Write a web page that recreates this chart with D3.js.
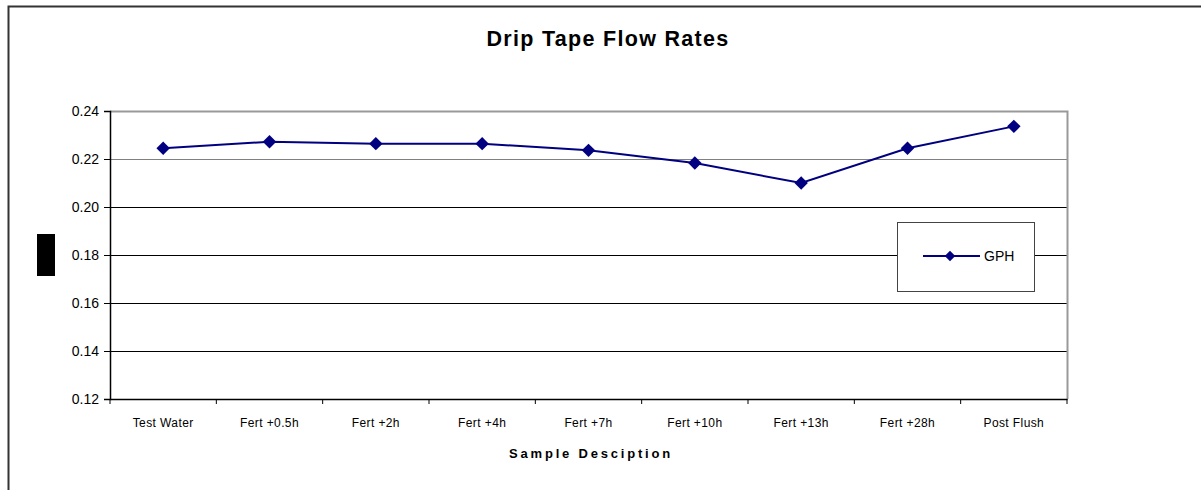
<!DOCTYPE html>
<html><head><meta charset="utf-8">
<script src="https://cdn.jsdelivr.net/npm/d3@7"></script>
<style>body{margin:0;background:#fff}svg{display:block}</style>
</head><body>
<svg id="c" width="1201" height="490"></svg>
<script>
const categories = ["Test Water","Fert +0.5h","Fert +2h","Fert +4h","Fert +7h","Fert +10h","Fert +13h","Fert +28h","Post Flush"];
const gph = [0.2245,0.2272,0.2264,0.2264,0.2236,0.2183,0.2100,0.2245,0.2336];
const yTicks = [0.12,0.14,0.16,0.18,0.20,0.22,0.24];
const title = "Drip Tape Flow Rates";
const xTitle = "Sample Desciption";
const seriesName = "GPH";

const svg = d3.select("#c");
const font = "Liberation Sans, Arial, sans-serif";
const L = 110, R = 1067, T = 111, B = 399;

// outer chart border
svg.append("rect").attr("x",8.5).attr("y",6.5).attr("width",1250).attr("height",600)
  .attr("fill","none").attr("stroke","#333").attr("stroke-width",2);

const x = d3.scaleBand().domain(categories).range([L,R]).padding(0);
const y = d3.scaleLinear().domain([0.12,0.24]).range([B,T]);

// gridlines
svg.append("g").selectAll("line").data(yTicks.filter(v=>v>0.12 && v<0.24)).join("line")
  .attr("x1",L).attr("x2",R).attr("y1",d=>Math.round(y(d))+0.5).attr("y2",d=>Math.round(y(d))+0.5)
  .attr("stroke",d=>d===0.22?"#808080":"#000").attr("stroke-width",1);

// plot area top & right border
svg.append("path").attr("d",`M${L},${T+0.5}H${R+0.5}V${B}`).attr("fill","none")
  .attr("stroke","#999").attr("stroke-width",2);

// y axis
const yAxis = d3.axisLeft(y).tickValues(yTicks).tickFormat(d3.format(".2f")).tickSize(6).tickPadding(5);
const gy = svg.append("g").attr("transform",`translate(${L},0)`).call(yAxis);
gy.select(".domain").attr("stroke","#000").attr("stroke-width",1.5);
gy.selectAll(".tick line").attr("stroke","#000");
gy.selectAll("text").attr("font-family",font).attr("font-size",14).attr("fill","#000");

// x axis
const xAxis = d3.axisBottom(x).tickSize(0).tickPadding(0);
const gx = svg.append("g").attr("transform",`translate(0,${B})`).call(xAxis);
gx.select(".domain").attr("stroke","#000").attr("stroke-width",1.5);
gx.selectAll(".tick text").attr("font-family",font).attr("font-size",12).attr("fill","#000").attr("dy",0).attr("y",28)
  .attr("letter-spacing",0.4);
// category separators
svg.append("g").selectAll("line").data(categories.concat(["_end"])).join("line")
  .attr("x1",(d,i)=>L+i*x.bandwidth()).attr("x2",(d,i)=>L+i*x.bandwidth())
  .attr("y1",B).attr("y2",B+5).attr("stroke","#000");

// black block (y-axis title)
svg.append("rect").attr("x",37).attr("y",234).attr("width",18).attr("height",42).attr("fill","#000");

// line
const cx = d => x(d)+x.bandwidth()/2;
svg.append("path").datum(gph).attr("fill","none").attr("stroke","#000080").attr("stroke-width",2)
  .attr("d",d3.line().x((d,i)=>cx(categories[i])).y(d=>y(d)));
const diamond = d3.symbol().type(d3.symbolDiamond2).size(115);
svg.append("g").selectAll("path").data(gph).join("path")
  .attr("transform",(d,i)=>`translate(${cx(categories[i])},${y(d)})`)
  .attr("d",diamond).attr("fill","#000080");

// title
svg.append("text").attr("x",608).attr("y",46).attr("text-anchor","middle")
  .attr("font-family",font).attr("font-weight","bold").attr("font-size",21.5).attr("letter-spacing",1.3).text(title);
svg.append("text").attr("x",591).attr("y",458).attr("text-anchor","middle")
  .attr("font-family",font).attr("font-weight","bold").attr("font-size",13).attr("letter-spacing",2.8).text(xTitle);

// legend
const lg = svg.append("g");
lg.append("rect").attr("x",897.5).attr("y",222.5).attr("width",137).attr("height",69)
  .attr("fill","#fff").attr("stroke","#444").attr("stroke-width",1);
lg.append("line").attr("x1",923).attr("x2",980).attr("y1",256).attr("y2",256).attr("stroke","#000080").attr("stroke-width",2);
lg.append("path").attr("transform","translate(950,256)").attr("d",d3.symbol().type(d3.symbolDiamond2).size(70)).attr("fill","#000080");
lg.append("text").attr("x",984).attr("y",261).attr("font-family",font).attr("font-size",14).text(seriesName);
</script>
</body></html>
